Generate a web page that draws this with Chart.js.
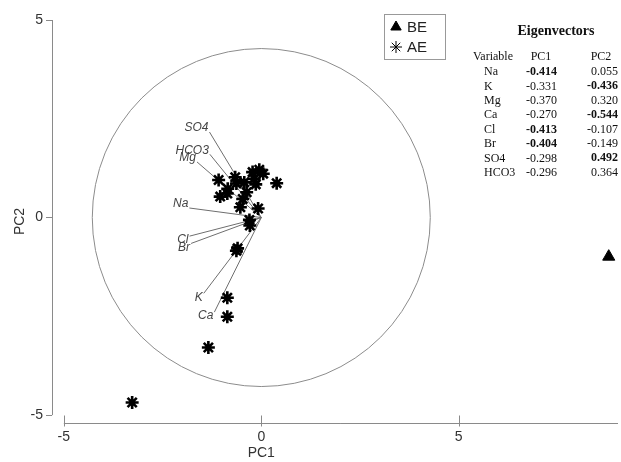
<!DOCTYPE html>
<html>
<head>
<meta charset="utf-8">
<script src="https://cdn.jsdelivr.net/npm/chart.js@4.4.0/dist/chart.umd.min.js"></script>
<style>
html, body { margin: 0; padding: 0; background: #fff; }
#wrap { width: 621px; height: 462px; }
</style>
</head>
<body>
<div id="wrap"><canvas id="pcaChart"></canvas></div>
<script>
// Eigenvectors (loadings)
var variables = ['Na', 'K', 'Mg', 'Ca', 'Cl', 'Br', 'SO4', 'HCO3'];
var pc1Loadings = [-0.414, -0.331, -0.370, -0.270, -0.413, -0.404, -0.298, -0.296];
var pc2Loadings = [0.055, -0.436, 0.320, -0.544, -0.107, -0.149, 0.492, 0.364];

// Sample scores
var beScores = [{x: 8.8, y: -0.99}];
var aeScores = [
    {x: -3.27, y: -4.68}, {x: -1.34, y: -3.29}, {x: -0.86, y: -2.03}, {x: -0.86, y: -2.51},
    {x: -0.63, y: -0.84}, {x: -0.60, y: -0.78}, {x: -0.29, y: -0.20}, {x: -0.30, y: -0.06},
    {x: -0.08, y: 0.23}, {x: -0.53, y: 0.26}, {x: -0.47, y: 0.47}, {x: -0.37, y: 0.64},
    {x: -0.86, y: 0.61}, {x: -1.04, y: 0.53}, {x: -0.85, y: 0.73}, {x: -1.08, y: 0.95},
    {x: -0.66, y: 1.02}, {x: -0.63, y: 0.86}, {x: -0.43, y: 0.89}, {x: -0.18, y: 0.98},
    {x: -0.22, y: 1.15}, {x: -0.05, y: 1.21}, {x: 0.05, y: 1.11}, {x: -0.14, y: 0.84},
    {x: 0.39, y: 0.87}
];

var xTicks = [-5, 0, 5];
var yTicks = [-5, 0, 5];
var vectorScale = 4.4;
var circleRadius = 4.28;

var axisGray = '#8a8a8a';

// loading vectors as line datasets
var datasets = [];
variables.forEach(function(v, i) {
    datasets.push({
        label: v,
        data: [{x: 0, y: 0}, {x: pc1Loadings[i] * vectorScale, y: pc2Loadings[i] * vectorScale}],
        showLine: true,
        borderColor: '#6e6e6e',
        borderWidth: 1,
        pointRadius: 0,
        isVector: true,
        order: 5
    });
});
datasets.push({
    label: 'BE',
    data: beScores,
    pointStyle: 'triangle',
    pointRadius: 7,
    backgroundColor: '#000',
    borderColor: '#000',
    borderWidth: 1,
    clip: false,
    order: 1
});
datasets.push({
    label: 'AE',
    data: aeScores,
    pointStyle: 'star',
    pointRadius: 6.5,
    backgroundColor: '#000',
    borderColor: '#000',
    borderWidth: 2.6,
    order: 1
});

// circle, axis lines, vector labels, legend, eigenvector table
var extrasPlugin = {
    id: 'extras',
    beforeDatasetsDraw: function(chart) {
        var ctx = chart.ctx, xs = chart.scales.x, ys = chart.scales.y;
        var cx = xs.getPixelForValue(0), cy = ys.getPixelForValue(0);
        var r = xs.getPixelForValue(circleRadius) - cx;
        ctx.save();
        ctx.strokeStyle = '#8c8c8c';
        ctx.lineWidth = 1;
        ctx.beginPath();
        ctx.arc(cx, cy, r, 0, Math.PI * 2);
        ctx.stroke();
        ctx.restore();
    },
    afterDatasetsDraw: function(chart) {
        var ctx = chart.ctx, xs = chart.scales.x, ys = chart.scales.y;
        var area = chart.chartArea;
        ctx.save();
        // axis lines
        ctx.strokeStyle = axisGray;
        ctx.lineWidth = 1;
        ctx.beginPath();
        var yl = Math.round(area.left) + 0.5;
        ctx.moveTo(yl, ys.getPixelForValue(yTicks[yTicks.length - 1]));
        ctx.lineTo(yl, ys.getPixelForValue(yTicks[0]));
        var xb = Math.round(area.bottom) + 0.5;
        ctx.moveTo(xs.getPixelForValue(xTicks[0]), xb);
        ctx.lineTo(chart.width - 3, xb);
        xTicks.forEach(function(t) {
            var px = Math.round(xs.getPixelForValue(t)) + 0.5;
            ctx.moveTo(px, xb - 8);
            ctx.lineTo(px, xb + 3);
        });
        ctx.stroke();

        // vector labels
        ctx.font = 'italic 12px "Liberation Sans", Arial, sans-serif';
        ctx.fillStyle = '#444';
        ctx.textAlign = 'right';
        variables.forEach(function(v, i) {
            var ex = xs.getPixelForValue(pc1Loadings[i] * vectorScale);
            var ey = ys.getPixelForValue(pc2Loadings[i] * vectorScale);
            if (pc2Loadings[i] >= 0) {
                ctx.textBaseline = 'bottom';
                ctx.fillText(v, ex - 1, ey + 2);
            } else {
                ctx.textBaseline = 'top';
                ctx.fillText(v, ex - 1, ey - 2);
            }
        });

        // PC1 title centred on zero
        ctx.font = '14px "Liberation Sans", Arial, sans-serif';
        ctx.fillStyle = '#333';
        ctx.textAlign = 'center';
        ctx.textBaseline = 'middle';
        ctx.fillText('PC1', xs.getPixelForValue(0), 453);

        // legend box
        var lx = 384, ly = 14, lw = 61, lh = 45;
        ctx.strokeStyle = '#999';
        ctx.lineWidth = 1;
        ctx.strokeRect(lx + 0.5, ly + 0.5, lw, lh);
        var legendSets = chart.data.datasets.filter(function(d) { return !d.isVector; });
        legendSets.forEach(function(d, i) {
            var yy = ly + 13 + i * 20;
            ctx.fillStyle = '#000';
            ctx.strokeStyle = '#000';
            Chart.helpers.drawPoint(ctx, {
                pointStyle: d.pointStyle,
                radius: 6,
                borderWidth: d.pointStyle === 'triangle' ? 1 : 2.6,
                rotation: 0
            }, lx + 12, yy);
            ctx.font = '15px "Liberation Sans", Arial, sans-serif';
            ctx.fillStyle = '#222';
            ctx.textAlign = 'left';
            ctx.textBaseline = 'middle';
            ctx.fillText(d.label, lx + 23, yy + 1);
        });

        // eigenvector table
        ctx.fillStyle = '#111';
        ctx.font = 'bold 14px "Liberation Serif", "Times New Roman", serif';
        ctx.textAlign = 'center';
        ctx.textBaseline = 'middle';
        ctx.fillText('Eigenvectors', 556, 31);
        ctx.font = '12px "Liberation Serif", "Times New Roman", serif';
        ctx.textAlign = 'left';
        ctx.fillText('Variable', 473, 57);
        ctx.textAlign = 'center';
        ctx.fillText('PC1', 541, 57);
        ctx.fillText('PC2', 601, 57);
        variables.forEach(function(v, i) {
            var yy = 72 + i * 14.4;
            ctx.font = '12px "Liberation Serif", "Times New Roman", serif';
            ctx.textAlign = 'left';
            ctx.fillText(v, 484, yy);
            ctx.textAlign = 'right';
            ctx.font = (Math.abs(pc1Loadings[i]) >= 0.4 ? 'bold ' : '') + '12px "Liberation Serif", "Times New Roman", serif';
            ctx.fillText(pc1Loadings[i].toFixed(3), 557, yy);
            ctx.font = (Math.abs(pc2Loadings[i]) >= 0.4 ? 'bold ' : '') + '12px "Liberation Serif", "Times New Roman", serif';
            ctx.fillText(pc2Loadings[i].toFixed(3), 618, yy);
        });
        ctx.restore();
    }
};

var ctx = document.getElementById('pcaChart').getContext('2d');
new Chart(ctx, {
    type: 'scatter',
    data: { datasets: datasets },
    options: {
        responsive: true,
        maintainAspectRatio: false,
        animation: false,
        layout: { padding: { top: 20, right: 0, left: 0, bottom: 0 } },
        plugins: {
            legend: { display: false },
            tooltip: { enabled: false }
        },
        scales: {
            x: {
                type: 'linear',
                min: -5.3,
                max: 8.88,
                afterFit: function(s) { s.height = 39; },
                afterBuildTicks: function(s) { s.ticks = xTicks.map(function(v) { return {value: v}; }); },
                border: { display: false },
                grid: { display: true, drawOnChartArea: false, drawTicks: false },
                ticks: {
                    padding: 6,
                    color: '#333',
                    font: { family: '"Liberation Sans", Arial, sans-serif', size: 14 }
                }
            },
            y: {
                type: 'linear',
                min: -5.2,
                max: 5,
                afterFit: function(s) { s.width = 52; },
                afterBuildTicks: function(s) { s.ticks = yTicks.map(function(v) { return {value: v}; }); },
                border: { display: false },
                grid: { drawOnChartArea: false, drawTicks: true, tickLength: 6, color: axisGray },
                ticks: {
                    padding: 3,
                    color: '#333',
                    font: { family: '"Liberation Sans", Arial, sans-serif', size: 14 }
                },
                title: {
                    display: true,
                    text: 'PC2',
                    color: '#333',
                    padding: { top: 12, bottom: 0 },
                    font: { family: '"Liberation Sans", Arial, sans-serif', size: 14 }
                }
            }
        }
    },
    plugins: [extrasPlugin]
});
</script>
</body>
</html>
